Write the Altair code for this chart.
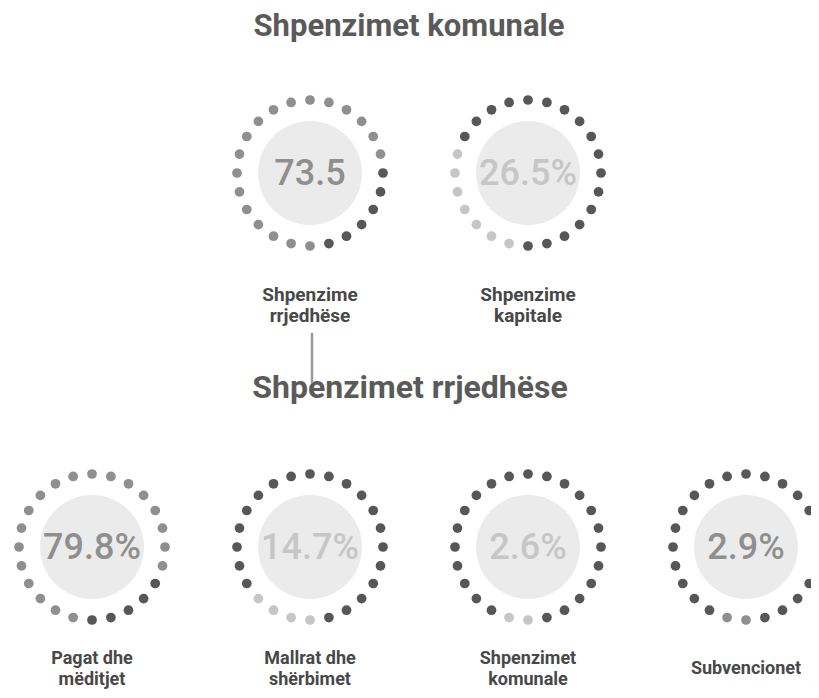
import math
import altair as alt
import pandas as pd

# ---------------- data ----------------
title_top = "Shpenzimet komunale"
title_bottom = "Shpenzimet rrjedhëse"

top_labels = ["Shpenzime\nrrjedhëse", "Shpenzime\nkapitale"]
top_values = ["73.5", "26.5%"]
top_tones = ["medium", "light"]
top_lit_start = [12, 13]      # dot index (15° steps clockwise from top) where the lit run starts
top_lit_count = [18, 7]       # number of lit dots

bottom_labels = ["Pagat dhe\nmëditjet", "Mallrat dhe\nshërbimet", "Shpenzimet\nkomunale", "Subvencionet"]
bottom_values = ["79.8%", "14.7%", "2.6%", "2.9%"]
bottom_tones = ["medium", "light", "light", "medium"]
bottom_lit_start = [13, 12, 12, 12]
bottom_lit_count = [19, 4, 2, 2]

N_DOTS = 24

# ---------------- layout (chart pixel units) ----------------
W, H = 803, 682
CENTER_X = 411
SPACING = 218
ROW_Y = [165, 539]
LABEL_MID_Y = [297.5, 661]
LABEL_SIZE = [19, 18]
LINE_H = 21
TITLE_Y = [28, 390]
R = 73

rows = [
    (top_labels, top_values, top_tones, top_lit_start, top_lit_count),
    (bottom_labels, bottom_values, bottom_tones, bottom_lit_start, bottom_lit_count),
]

ring_recs, dot_recs = [], []
for r, (labels, values, tones, starts, counts) in enumerate(rows):
    n = len(labels)
    for c in range(n):
        cx = CENTER_X + SPACING * (c - (n - 1) / 2)
        cy = ROW_Y[r]
        nlines = labels[c].count("\n") + 1
        ring_recs.append(dict(x=cx, y=cy, ly=LABEL_MID_Y[r] - (nlines - 1) * LINE_H / 2,
                              lsize=LABEL_SIZE[r], label=labels[c], value=values[c],
                              tone=tones[c]))
        for k in range(N_DOTS):
            lit = ((k - starts[c]) % N_DOTS) < counts[c]
            a = math.radians(k * 360 / N_DOTS)
            dot_recs.append(dict(x=cx + R * math.sin(a), y=cy - R * math.cos(a),
                                 state=tones[c] if lit else "dark"))

rings = pd.DataFrame(ring_recs)
dots = pd.DataFrame(dot_recs)
titles = pd.DataFrame(dict(text=[title_top, title_bottom], x=[CENTER_X - 10, CENTER_X - 9],
                           y=TITLE_Y, size=[31, 32]))
connector = pd.DataFrame(dict(x=[rings.x[0] + 2], y=[325], y2=[375]))

X = alt.X("x:Q", scale=alt.Scale(domain=[0, W], nice=False, zero=False), axis=None)
Y = alt.Y("y:Q", scale=alt.Scale(domain=[0, H], nice=False, zero=False, reverse=True), axis=None)
COLOR_SCALE = alt.Scale(domain=["dark", "medium", "light"],
                        range=["#575757", "#8f8f8f", "#c6c6c6"])

inner = alt.Chart(rings).mark_circle(size=10800, color="#ebebeb", opacity=1).encode(x=X, y=Y)

dot_layer = alt.Chart(dots).mark_circle(size=95, opacity=1).encode(
    x=X, y=Y, color=alt.Color("state:N", scale=COLOR_SCALE, legend=None))

value_text = alt.Chart(rings).mark_text(font="Roboto", fontSize=36, fontWeight=500,
                                        align="center", baseline="middle", dy=1).encode(
    x=X, y=Y, text="value:N", color=alt.Color("tone:N", scale=COLOR_SCALE, legend=None))

label_text = alt.Chart(rings).mark_text(font="Roboto", fontWeight="bold",
                                        align="center", baseline="middle", lineBreak="\n",
                                        lineHeight=LINE_H, color="#484848").encode(
    x=X, y=alt.Y("ly:Q", scale=alt.Scale(domain=[0, H], nice=False, zero=False, reverse=True), axis=None),
    text="label:N", size=alt.Size("lsize:Q", scale=None))

title_text = alt.Chart(titles).mark_text(font="Roboto", fontWeight="bold", align="center",
                                         baseline="alphabetic", color="#5a5a5a").encode(
    x=X, y=Y, text="text:N", size=alt.Size("size:Q", scale=None))

rule = alt.Chart(connector).mark_rule(color="#9a9a9a", strokeWidth=2.5).encode(
    x=X, y=Y, y2="y2:Q")

chart = alt.layer(inner, dot_layer, value_text, label_text, title_text, rule).properties(
    width=W, height=H, padding=0, autosize=alt.AutoSizeParams(type="none"),
    background="white"
).configure_view(stroke=None)

chart.save("out.html", embed_options={"renderer": "svg", "actions": False})
